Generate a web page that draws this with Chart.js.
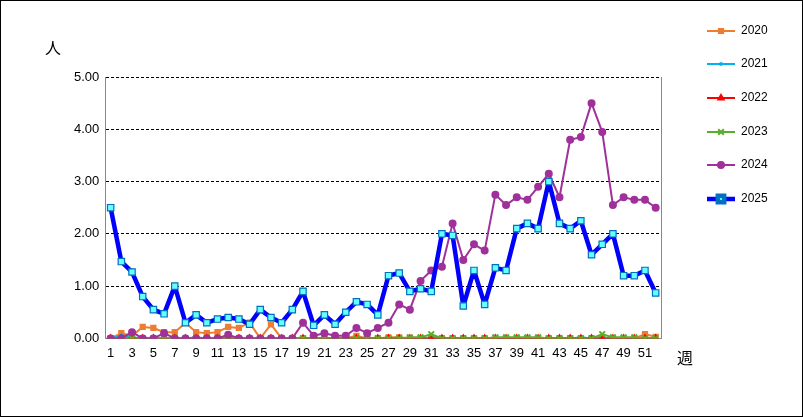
<!DOCTYPE html>
<html><head><meta charset="utf-8">
<script src="https://cdn.jsdelivr.net/npm/chart.js@4/dist/chart.umd.min.js"></script>
<style>body{margin:0;background:#fff}#wrap{position:absolute;left:0;top:0;width:801px;height:415px;border:1px solid #000}</style>
</head><body><div id="wrap"><canvas id="c" width="801" height="415"></canvas></div>
<script>
const weeks = Array.from({length: 52}, (_, i) => String(i + 1));
const yTicks = [0, 1, 2, 3, 4, 5];
const d2020 = [0,0.1,0.05,0.22,0.2,0.12,0.12,0.3,0.12,0.1,0.12,0.22,0.2,0.3,0,0.27,0,0,0,0,0,0,0,0.05,0,0,0.02,0.02,0,0,0,0,0,0,0,0,0,0,0,0,0,0,0,0,0,0,0,0,0,0,0.08,0.03];
const d2021 = [0,0.05,0.02,0,0,0,0,0,0.02,0,0,0,0,0,0,0,0,0,0,0,0,0,0,0,0,0,0,0,0,0,0,0,0,0,0,0,0,0,0,0,0,0,0,0,0.02,0,0,0,0,0,0,0];
const d2022 = [0,0,0,0,0,0,0,0,0,0,0,0,0,0,0,0,0,0,0,0,0,0,0,0,0,0,0,0,0,0,0,0,0,0,0,0,0,0,0,0,0,0,0,0,0,0,0,0,0,0,0,0];
const d2023 = [0,0,0,0,0,0,0,0,0,0,0,0,0,0,0,0,0,0,0,0,0,0,0,0,0,0,0,0,0.02,0.02,0.08,0,0,0,0,0,0.02,0.02,0.02,0.02,0.02,0,0,0,0,0,0.08,0.02,0.02,0.02,0,0];
const d2024 = [0,0,0.12,0,0,0.1,0,0,0,0,0,0.07,0,0,0,0,0,0,0.3,0.05,0.1,0.05,0.05,0.2,0.1,0.2,0.3,0.65,0.55,1.1,1.3,1.37,2.2,1.5,1.8,1.68,2.75,2.55,2.7,2.65,2.9,3.15,2.7,3.8,3.85,4.5,3.95,2.55,2.7,2.65,2.65,2.5];
const d2025 = [2.5,1.47,1.27,0.8,0.55,0.47,1.0,0.3,0.45,0.3,0.37,0.4,0.37,0.27,0.55,0.4,0.3,0.55,0.9,0.25,0.45,0.27,0.5,0.7,0.65,0.45,1.2,1.25,0.9,0.95,0.9,2.0,1.97,0.62,1.3,0.65,1.35,1.3,2.1,2.2,2.1,3.0,2.2,2.1,2.25,1.6,1.8,2.0,1.2,1.2,1.3,0.87];

const series = [
  {label: "2020", data: d2020, borderColor: "#ed7d31", backgroundColor: "#ed7d31", pointStyle: "rect", pointRadius: 3, borderWidth: 2},
  {label: "2021", data: d2021, borderColor: "#00b0f0", backgroundColor: "#00b0f0", pointStyle: "crossRot", pointRadius: 2, borderWidth: 2},
  {label: "2022", data: d2022, borderColor: "#ff0000", backgroundColor: "#ff0000", pointStyle: "triangle", pointRadius: 3, borderWidth: 2},
  {label: "2023", data: d2023, borderColor: "#5cad2c", backgroundColor: "#5cad2c", pointStyle: "crossRot", pointRadius: 4, borderWidth: 2},
  {label: "2024", data: d2024, borderColor: "#a0309a", backgroundColor: "#a0309a", pointStyle: "circle", pointRadius: 3, borderWidth: 2},
  {label: "2025", data: d2025, borderColor: "#0000ff", backgroundColor: "#66ffff", pointBorderColor: "#0070c0", pointStyle: "rect", pointRadius: 4.5, borderWidth: 4.5, pointBorderWidth: 1.2}
];

// legend drawn on the right side, plus axis titles and right frame edge
const extras = {
  id: "extras",
  afterDraw(chart) {
    const ctx = chart.ctx;
    const a = chart.chartArea;
    ctx.save();
    ctx.strokeStyle = "#888"; ctx.lineWidth = 1;
    ctx.beginPath(); ctx.moveTo(a.right + 0.5, a.top); ctx.lineTo(a.right + 0.5, a.bottom); ctx.stroke();
    ctx.font = "12px 'Liberation Sans', Arial";
    ctx.textBaseline = "middle";
    const ys = [30, 63, 97, 131, 164, 198];
    series.forEach((s, i) => {
      const y = ys[i];
      ctx.strokeStyle = s.borderColor;
      ctx.lineWidth = s.borderWidth;
      ctx.beginPath(); ctx.moveTo(706, y); ctx.lineTo(734, y); ctx.stroke();
      ctx.fillStyle = s.backgroundColor;
      ctx.strokeStyle = s.pointBorderColor || s.borderColor;
      Chart.helpers.drawPoint(ctx, {pointStyle: s.pointStyle, radius: s.pointRadius, rotation: 0, borderWidth: s.pointBorderWidth || 1}, 720, y);
      ctx.fillStyle = "#000";
      ctx.fillText(s.label, 740, y);
    });
    ctx.font = "16px 'Noto Sans CJK JP'";
    ctx.fillText("人", 44, 47);
    ctx.fillText("週", 676, 357);
    ctx.restore();
  }
};

new Chart(document.getElementById("c"), {
  type: "line",
  data: {labels: weeks, datasets: series.map(s => Object.assign({fill: false, tension: 0, borderJoinStyle: "round", pointBackgroundColor: s.backgroundColor, pointBorderColor: s.pointBorderColor || s.borderColor}, s)).reverse()},
  options: {
    responsive: false, animation: false,
    layout: {padding: {left: 67, top: 76, right: 141, bottom: 52}},
    plugins: {legend: {display: false}, tooltip: {enabled: false}},
    scales: {
      x: {
        offset: true,
        grid: {display: false, drawTicks: true, tickLength: 4, color: "#000"},
        border: {color: "#888", width: 1},
        ticks: {autoSkip: false, maxRotation: 0, color: "#000", font: {size: 13, family: "'Liberation Sans', Arial"},
          callback: (v, i) => i % 2 === 0 ? weeks[i] : ""}
      },
      y: {
        min: 0, max: 5,
        afterBuildTicks: ax => { ax.ticks = yTicks.map(v => ({value: v})); },
        grid: {color: "#000", lineWidth: 1, drawTicks: false},
        border: {color: "#888", width: 1, dash: [3, 2]},
        ticks: {color: "#000", padding: 6, font: {size: 13, family: "'Liberation Sans', Arial"}, callback: v => v.toFixed(2)}
      }
    }
  },
  plugins: [extras]
});
</script></body></html>
